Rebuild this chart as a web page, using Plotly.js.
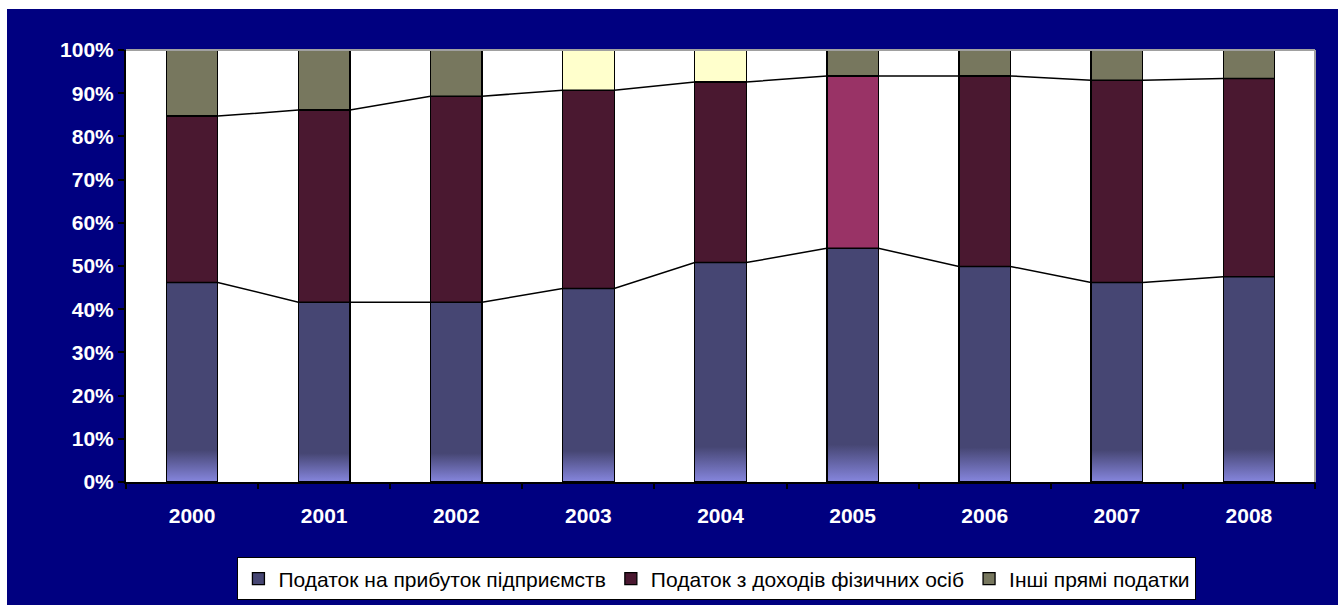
<!DOCTYPE html>
<html>
<head>
<meta charset="utf-8">
<script src="https://cdn.plot.ly/plotly-3.0.1.min.js"></script>
<style>
  html, body { margin: 0; padding: 0; background: #ffffff; }
  #chart { position: absolute; left: 7px; top: 9px; width: 1331px; height: 596px; }
</style>
</head>
<body>
<div id="chart"></div>
<script>
// ---- data (shares of direct taxes, %) ----
const years = ['2000', '2001', '2002', '2003', '2004', '2005', '2006', '2007', '2008'];
const seriesNames = ['Податок на прибуток підприємств', 'Податок з доходів фізичних осіб', 'Інші прямі податки'];
const corporateTax = [46.2, 41.6, 41.6, 44.8, 50.8, 54.1, 49.9, 46.2, 47.5];
const personalIncomeTax = [38.5, 44.5, 47.7, 45.9, 41.8, 39.9, 44.1, 46.8, 45.9];
const otherDirectTaxes = [15.3, 13.9, 10.7, 9.3, 7.4, 6.0, 6.0, 7.0, 6.6];
const yTicks = [0, 10, 20, 30, 40, 50, 60, 70, 80, 90, 100];
const yTickText = yTicks.map(v => v + '%');

// ---- styles ----
const colCorp = '#464673';
const colPers = '#4A1830';
const colOther = '#77775E';
const colPersSpecial = '#993366';
const colOtherSpecial = '#FFFFCC';
const barWidth = 0.39;
const fontFamily = 'Arial, "Liberation Sans", sans-serif';

const xIdx = years.map((_, i) => i);

const persColors = years.map(y => y === '2005' ? colPersSpecial : colPers);
const otherColors = years.map(y => (y === '2003' || y === '2004') ? colOtherSpecial : colOther);

const barLine = { color: '#000000', width: 1.3 };

const traces = [
  { type: 'bar', name: seriesNames[0], x: xIdx, y: corporateTax, width: barWidth,
    marker: { color: colCorp, line: barLine }, hoverinfo: 'skip' },
  { type: 'bar', name: seriesNames[1], x: xIdx, y: personalIncomeTax, width: barWidth,
    marker: { color: persColors, line: barLine }, hoverinfo: 'skip' },
  { type: 'bar', name: seriesNames[2], x: xIdx, y: otherDirectTaxes, width: barWidth,
    marker: { color: otherColors, line: barLine }, hoverinfo: 'skip' }
];

// Series lines (connect tops of stacked segments, edge to edge)
function seriesLine(cum) {
  const xs = [], ys = [];
  xIdx.forEach((x, i) => {
    xs.push(x - barWidth / 2, x + barWidth / 2);
    ys.push(cum[i], cum[i]);
  });
  return { type: 'scatter', mode: 'lines', x: xs, y: ys, showlegend: false, hoverinfo: 'skip',
           line: { color: '#000000', width: 1.5 } };
}
const cum1 = corporateTax.slice();
const cum2 = corporateTax.map((v, i) => v + personalIncomeTax[i]);
traces.push(seriesLine(cum1));
traces.push(seriesLine(cum2));

// dummy trace for the boundary-tick axis
traces.push({ type: 'scatter', x: [], y: [], xaxis: 'x2', showlegend: false, hoverinfo: 'skip' });

const boundaryTicks = xIdx.map(i => i - 0.5).concat([xIdx.length - 0.5]);
const xRange = [-0.5, years.length - 0.5];

const layout = {
  width: 1331, height: 596,
  paper_bgcolor: '#000080',
  plot_bgcolor: '#ffffff',
  margin: { l: 119, r: 23, t: 41, b: 123, autoexpand: false },
  barmode: 'stack',
  showlegend: true,
  font: { family: fontFamily },
  xaxis: {
    range: xRange, automargin: false,
    tickmode: 'array', tickvals: xIdx, ticktext: years,
    ticks: '', showgrid: false, zeroline: false,
    showline: true, linecolor: '#000000', linewidth: 2,
    tickfont: { color: '#ffffff', size: 21, family: fontFamily, weight: 'bold' },
    ticklabelstandoff: 14,
    fixedrange: true
  },
  xaxis2: {
    overlaying: 'x', anchor: 'y', side: 'bottom', automargin: false,
    range: xRange,
    tickmode: 'array', tickvals: boundaryTicks,
    ticks: 'outside', ticklen: 6, tickwidth: 2, tickcolor: '#000000',
    showticklabels: false, showgrid: false, zeroline: false, showline: false,
    fixedrange: true
  },
  yaxis: {
    range: [0, 100], automargin: false,
    tickmode: 'array', tickvals: yTicks, ticktext: yTickText,
    ticks: 'outside', ticklen: 6, tickwidth: 2, tickcolor: '#000000',
    showgrid: false, zeroline: false,
    showline: true, linecolor: '#000000', linewidth: 2,
    tickfont: { color: '#ffffff', size: 21, family: fontFamily, weight: 'bold' },
    fixedrange: true
  },
  legend: {
    orientation: 'h',
    x: 0.497, xanchor: 'center',
    y: -0.2245, yanchor: 'middle',
    bgcolor: '#ffffff', bordercolor: '#000000', borderwidth: 1,
    font: { color: '#000000', size: 21, family: fontFamily },
    traceorder: 'normal',
    itemwidth: 30
  },
  shapes: [
    { type: 'line', xref: 'paper', yref: 'paper', x0: 0, x1: 1, y0: 1, y1: 1,
      line: { color: '#a0a0a0', width: 2 } },
    { type: 'line', xref: 'paper', yref: 'paper', x0: 1, x1: 1, y0: 0, y1: 1,
      line: { color: '#a0a0a0', width: 2 } }
  ]
};

Plotly.newPlot('chart', traces, layout, { displayModeBar: false, staticPlot: true }).then(gd => {
  // light gradient at the bottom of the first series bars
  const svg = gd.querySelector('.main-svg');
  const ns = 'http://www.w3.org/2000/svg';
  let defs = svg.querySelector('defs');
  if (!defs) { defs = document.createElementNS(ns, 'defs'); svg.insertBefore(defs, svg.firstChild); }
  const grad = document.createElementNS(ns, 'linearGradient');
  grad.setAttribute('id', 'corpGrad');
  grad.setAttribute('x1', '0'); grad.setAttribute('y1', '0');
  grad.setAttribute('x2', '0'); grad.setAttribute('y2', '1');
  [['0', colCorp], ['0.84', colCorp], ['1', '#8686DE']].forEach(([o, c]) => {
    const s = document.createElementNS(ns, 'stop');
    s.setAttribute('offset', o); s.setAttribute('stop-color', c);
    grad.appendChild(s);
  });
  defs.appendChild(grad);
  const barTraces = gd.querySelectorAll('.barlayer .trace');
  if (barTraces.length) {
    barTraces[0].querySelectorAll('path').forEach(p => { p.style.fill = 'url(#corpGrad)'; });
  }
});
</script>
</body>
</html>
